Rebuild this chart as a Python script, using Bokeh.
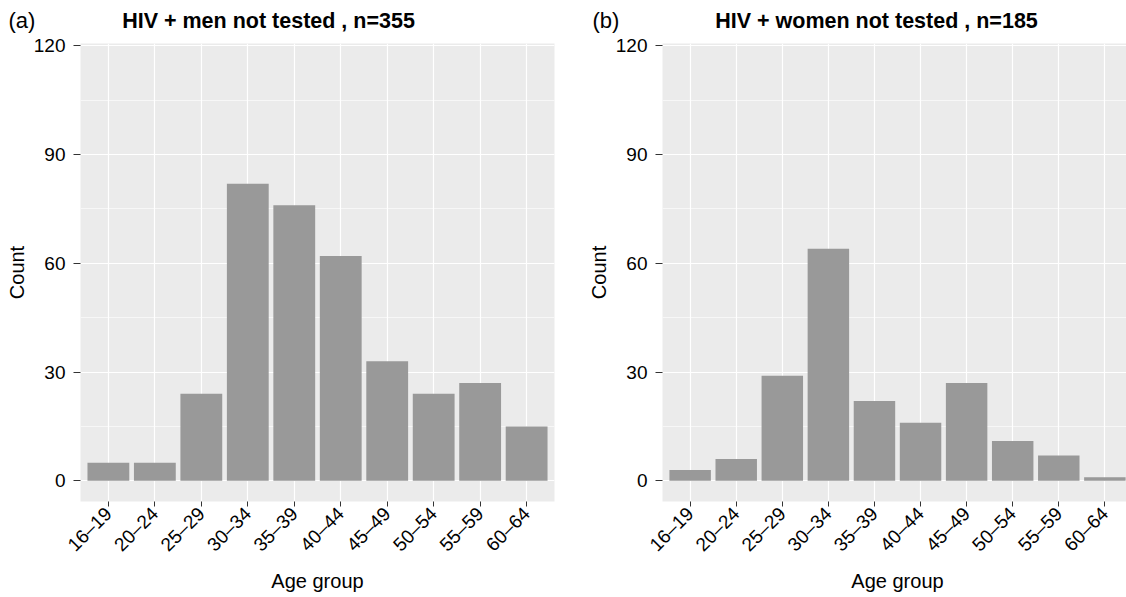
import math
from bokeh.plotting import figure
from bokeh.models import ColumnDataSource, FactorRange, Range1d, FixedTicker
from bokeh.layouts import row, column
from bokeh.core.properties import value
from bokeh.embed import file_html
from bokeh.resources import INLINE

age_groups = ["16–19", "20–24", "25–29", "30–34", "35–39",
              "40–44", "45–49", "50–54", "55–59", "60–64"]
men_counts = [5, 5, 24, 82, 76, 62, 33, 24, 27, 15]
women_counts = [3, 6, 29, 64, 22, 16, 27, 11, 7, 1]
y_ticks = [0, 30, 60, 90, 120]
y_minor = [15, 45, 75, 105]
panel_tags = ["(a)", "(b)"]
panel_titles = ["HIV + men not tested , n=355", "HIV + women not tested , n=185"]

FONT = "Liberation Sans"
TOTAL_W = 1126
HEAD_H = 34


def panel(counts, frame_w, border_left, border_right):
    p = figure(x_range=FactorRange(*age_groups, range_padding=0.02),
               y_range=Range1d(-5.7, 120.66),
               frame_width=frame_w, frame_height=458,
               min_border_left=border_left, min_border_right=border_right,
               min_border_top=9, min_border_bottom=92,
               output_backend="svg", toolbar_location=None)
    p.background_fill_color = "#EBEBEB"
    p.border_fill_color = "white"
    p.outline_line_color = None

    src = ColumnDataSource(dict(group=age_groups, count=counts))
    p.vbar(x="group", top="count", width=0.9, source=src,
           fill_color="#999999", line_color=None)

    p.yaxis.ticker = FixedTicker(ticks=y_ticks, minor_ticks=y_minor)
    p.ygrid.ticker = FixedTicker(ticks=y_ticks, minor_ticks=y_minor)
    for g in (p.xgrid, p.ygrid):
        g.grid_line_color = "white"
        g.grid_line_width = 1.2
    p.ygrid.minor_grid_line_color = "white"
    p.ygrid.minor_grid_line_width = 0.6

    for ax in (p.xaxis, p.yaxis):
        ax.axis_line_color = None
        ax.major_tick_in = 0
        ax.major_tick_line_color = "#333333"
        ax.minor_tick_line_color = None
        ax.major_label_text_font = FONT
        ax.major_label_text_color = "black"
        ax.axis_label_text_font = FONT
        ax.axis_label_text_font_style = "normal"
        ax.axis_label_text_font_size = "20px"
        ax.axis_label_text_color = "black"

    p.yaxis.major_tick_out = 7
    p.yaxis.major_label_text_font_size = "19px"
    p.yaxis.major_label_standoff = 8
    p.yaxis.axis_label = "Count"
    p.yaxis.axis_label_standoff = 3

    p.xaxis.major_tick_out = 5
    p.xaxis.major_label_text_font_size = "19px"
    p.xaxis.major_label_orientation = math.pi / 4
    p.xaxis.major_label_standoff = 4
    p.xaxis.axis_label = "Age group"
    p.xaxis.axis_label_standoff = 4
    return p


# header row holding the panel tags and titles
head = figure(width=TOTAL_W, height=HEAD_H, x_range=Range1d(0, TOTAL_W),
              y_range=Range1d(0, HEAD_H), min_border=0,
              x_axis_location=None, y_axis_location=None,
              output_backend="svg", toolbar_location=None)
head.outline_line_color = None
head.grid.visible = False
head.background_fill_color = "white"
head.border_fill_color = "white"
head.text(x=[8, 592], y=[14, 14], text=panel_tags,
          text_font=value(FONT), text_font_size="22px",
          text_align="left", text_baseline="middle", text_color="black")
head.text(x=[268, 876], y=[14, 14], text=panel_titles,
          text_font=value(FONT), text_font_size="21.5px", text_font_style="bold",
          text_align="center", text_baseline="middle", text_color="black")

p1 = panel(men_counts, 474, 80, 30)
p2 = panel(women_counts, 470, 72, 0)

layout = column(head, row(p1, p2))
open("out.html", "w").write(file_html(layout, INLINE))
